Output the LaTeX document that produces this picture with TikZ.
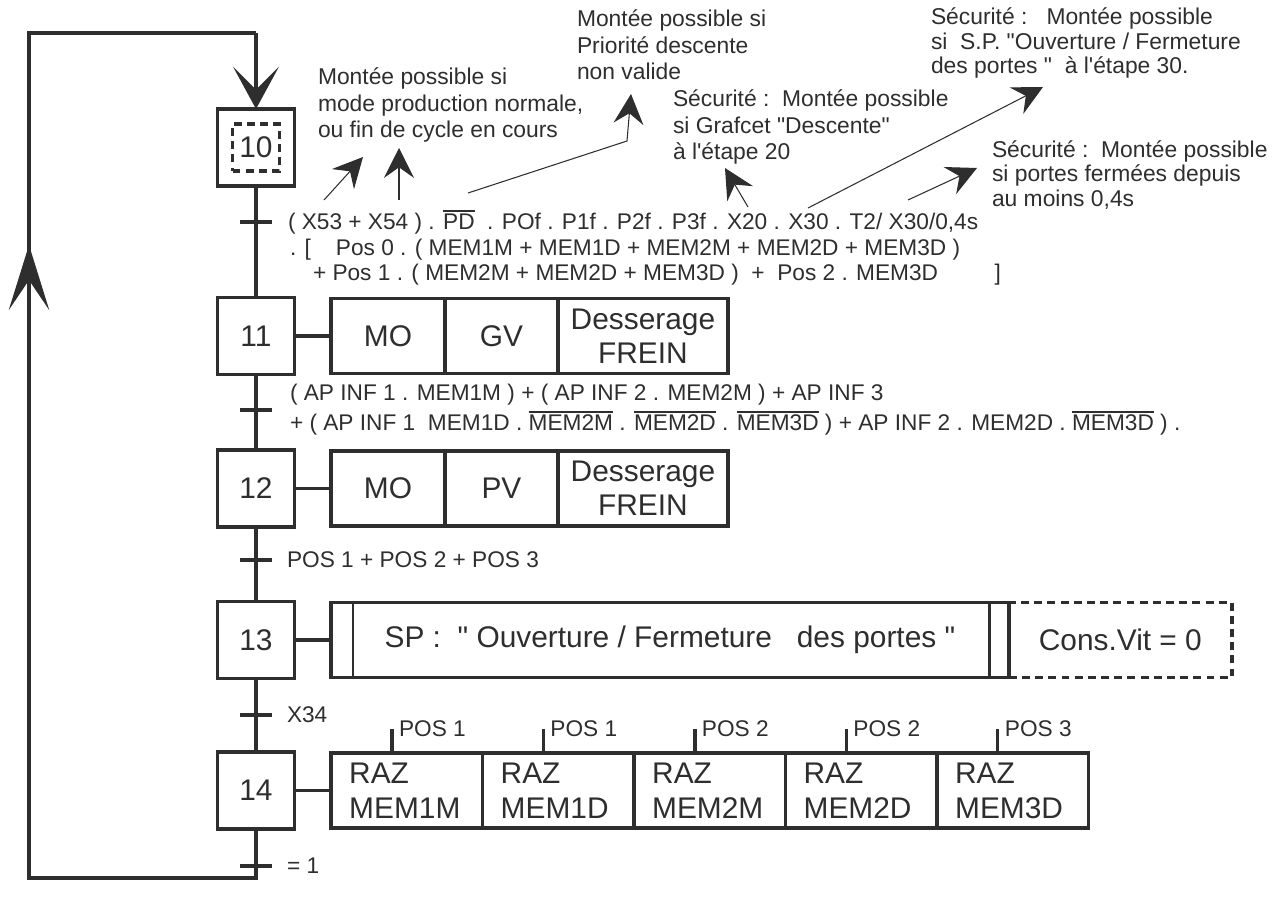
\documentclass[tikz,border=0pt]{standalone}
\usepackage{fontspec}
\setmainfont{Liberation Sans}[Ligatures=TeXOff]
\usetikzlibrary{arrows.meta,positioning}

\newcommand{\nonx}[1]{\leavevmode\vbox{\hrule height 1.3pt\kern 1.2pt\hbox{#1}}}

\begin{document}
\begin{tikzpicture}[x=0.02cm, y=-0.02cm, color=black!82]
\tikzset{ inner sep=0pt, outer sep=0pt,
  ligne/.style={line width=2.2pt},
  etape/.style={draw, line width=2pt, minimum size=1.54cm, font=\fontsize{17}{19}\selectfont},
  action/.style={draw, line width=2pt, minimum height=1.5cm, align=center, font=\fontsize{17}{19.5}\selectfont},
  raz/.style={action, minimum width=3.03cm, text width=2.3cm, align=left, font=\fontsize{17}{20}\selectfont},
  trans/.style={fill, minimum width=0.64cm, minimum height=2.3pt},
  recept/.style={anchor=west, font=\fontsize{12.9}{14}\selectfont},
  note/.style={anchor=west, align=left, font=\fontsize{13}{15}\selectfont},
  fleche/.style={line width=0.6pt, -{Stealth[length=17pt, width=17pt, inset=6pt]}},
  pointille/.style={dash pattern=on 4.5pt off 3pt},
}

\useasboundingbox (0,0) rectangle (1282,906);

% etapes
\node [etape] (e10) at (256,147.5) {};
\node [draw, pointille, line width=1.8pt, minimum size=0.94cm, font=\fontsize{17}{19}\selectfont] (i10) at (e10) {10};
\node [etape] (e11) at (256,336) {11};
\node [etape] (e12) at (256,488.5) {12};
\node [etape] (e13) at (256,640) {13};
\node [etape] (e14) at (256,790.5) {14};

% transitions
\node [trans] (t1) at (256,222) {};
\node [trans] (t2) at (256,410) {};
\node [trans] (t3) at (256,560) {};
\node [trans] (t4) at (256,715) {};
\node [trans] (t5) at (256,866) {};

\draw [ligne] (e10) -- (e11);
\draw [ligne] (e11) -- (e12);
\draw [ligne] (e12) -- (e13);
\draw [ligne] (e13) -- (e14);

% retour
\coordinate (bas) at (256,878);
\coordinate (coinbas) at (29,878);
\coordinate (montee) at (29,245);
\coordinate (coinhaut) at (29,33);
\coordinate (haut) at (256,33);
\draw [ligne] (e14) -- (bas) -- (coinbas) -- (coinhaut) -- (haut);
\draw [ligne, -{Stealth[length=24pt, width=26pt, inset=13pt]}] (haut) -- (e10);
\draw [ligne, -{Stealth[length=37pt, width=23pt, inset=17pt]}] (coinbas) -- (montee);

% receptivites
\node [recept] at (288,222) {( X53 + X54 ) . \nonx{PD}\ \ . POf . P1f . P2f . P3f . X20 . X30 . T2/ X30/0,4s};
\node [recept] at (290,250) {. [\hspace{1.1em}Pos 0 . ( MEM1M + MEM1D + MEM2M + MEM2D + MEM3D )};
\node [recept] at (313,275) {+ Pos 1 . ( MEM2M + MEM2D + MEM3D ) \ + \ Pos 2 . MEM3D\hspace{2.5em}]};
\node [recept] at (290,395) {( AP INF 1 . MEM1M ) + ( AP INF 2 . MEM2M ) + AP INF 3};
\node [recept] at (290,423) {+ ( AP INF 1 \ MEM1D . \nonx{MEM2M} . \nonx{MEM2D} . \nonx{MEM3D} ) + AP INF 2 . MEM2D . \nonx{MEM3D} ) .};
\node [recept] at (287,560) {POS 1 + POS 2 + POS 3};
\node [recept] at (287,715) {X34};
\node [recept] at (287,866) {= 1};

% actions 11 et 12
\node [action, minimum width=2.28cm, anchor=west] (mo11) at (331,336) {MO};
\node [action, minimum width=2.26cm, right=0pt of mo11] (gv11) {GV};
\node [action, minimum width=3.4cm, right=0pt of gv11] (fr11) {Desserage\\FREIN};
\draw [ligne] (e11) -- (mo11);

\node [action, minimum width=2.28cm, anchor=west] (mo12) at (331,488.5) {MO};
\node [action, minimum width=2.26cm, right=0pt of mo12] (pv12) {PV};
\node [action, minimum width=3.4cm, right=0pt of pv12] (fr12) {Desserage\\FREIN};
\draw [ligne] (e12) -- (mo12);

% action 13
\node [action, minimum width=13.56cm, anchor=west] (sp13) at (331,640) {SP : \ " Ouverture / Fermeture \ \ des portes "};
\draw [line width=1.6pt] ([xshift=0.44cm]sp13.north west) -- ([xshift=0.44cm]sp13.south west);
\draw [line width=1.6pt] ([xshift=-0.38cm]sp13.north east) -- ([xshift=-0.38cm]sp13.south east);
\node [action, pointille, minimum width=4.46cm, right=0pt of sp13] (cv13) {Cons.Vit = 0};
\draw [ligne] (e13) -- (sp13);

% actions 14
\node [raz, anchor=west] (r1) at (331,790.5) {RAZ\\MEM1M};
\node [raz, right=0pt of r1] (r2) {RAZ\\MEM1D};
\node [raz, right=0pt of r2] (r3) {RAZ\\MEM2M};
\node [raz, right=0pt of r3] (r4) {RAZ\\MEM2D};
\node [raz, right=0pt of r4] (r5) {RAZ\\MEM3D};
\draw [ligne] (e14) -- (r1);
\draw [line width=1.8pt] ([xshift=1.22cm]r1.north west) -- ++(0,-24) node [recept, xshift=4pt] (c1) {POS 1};
\draw [line width=1.8pt] ([xshift=1.22cm]r2.north west) -- ++(0,-24) node [recept, xshift=4pt] (c2) {POS 1};
\draw [line width=1.8pt] ([xshift=1.22cm]r3.north west) -- ++(0,-24) node [recept, xshift=4pt] (c3) {POS 2};
\draw [line width=1.8pt] ([xshift=1.22cm]r4.north west) -- ++(0,-24) node [recept, xshift=4pt] (c4) {POS 2};
\draw [line width=1.8pt] ([xshift=1.22cm]r5.north west) -- ++(0,-24) node [recept, xshift=4pt] (c5) {POS 3};

% commentaires
\node [note] (n1) at (318,105) {Montée possible si\\mode production normale,\\ou fin de cycle en cours};
\node [note] (n2) at (577,45) {Montée possible si\\Priorité descente\\non valide};
\node [note] (n3) at (673,127) {Sécurité :\ \ Montée possible\\si Grafcet "Descente"\\à l'étape 20};
\node [note, font=\fontsize{13}{14.2}\selectfont] (n4) at (931,43) {Sécurité :\ \ \ Montée possible\\si\ \ S.P. "Ouverture / Fermeture\\des portes "\ \ à l'étape 30.};
\node [note, font=\fontsize{13}{14.2}\selectfont] (n5) at (992,175) {Sécurité :\ \ Montée possible\\si portes fermées depuis\\au moins 0,4s};

\coordinate (a1) at (324,200);  \coordinate (b1) at (363,157);
\coordinate (a2) at (399,200);  \coordinate (b2) at (399,148);
\coordinate (a3) at (468,193);  \coordinate (k3) at (627,141);  \coordinate (b3) at (631,94);
\coordinate (a4) at (748,207);  \coordinate (b4) at (725,168);
\coordinate (a5) at (808,208);  \coordinate (b5) at (1043,87);
\coordinate (a6) at (908,200);  \coordinate (b6) at (977,168);
\draw [fleche] (a1) -- (b1);
\draw [fleche] (a2) -- (b2);
\draw [fleche] (a3) -- (k3) -- (b3);
\draw [fleche] (a4) -- (b4);
\draw [fleche] (a5) -- (b5);
\draw [fleche] (a6) -- (b6);

\end{tikzpicture}
\end{document}
